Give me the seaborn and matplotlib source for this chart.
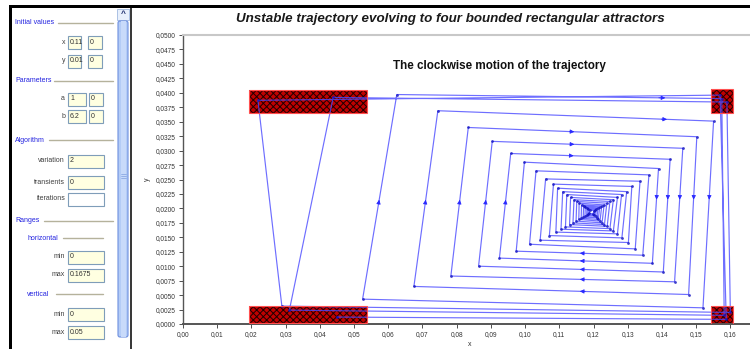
import numpy as np
import pandas as pd
import matplotlib
matplotlib.use("Agg")
import matplotlib.pyplot as plt
from matplotlib.patches import Rectangle, FancyBboxPatch
from matplotlib.ticker import FuncFormatter
import seaborn as sns

# ---------------- data ----------------
# loop corners, outermost loop first (BL -> TL -> TR -> BR in time order)
bl_x = [0.0525, 0.0675, 0.0783, 0.0864, 0.0925, 0.0974, 0.1013, 0.1044, 0.1071, 0.1090, 0.1105,
        0.1118, 0.1130, 0.1140, 0.1149, 0.1157, 0.1164, 0.1170, 0.1175, 0.1180, 0.1184, 0.1188]
bl_y = [0.0043, 0.0065, 0.0083, 0.0100, 0.0114, 0.0126, 0.0138, 0.0145, 0.0153, 0.0159, 0.0164,
        0.0168, 0.0172, 0.0175, 0.0178, 0.0181, 0.0183, 0.0185, 0.0187, 0.0189, 0.0191, 0.0192]
tl_x = [0.0625, 0.0745, 0.0834, 0.0904, 0.0958, 0.0998, 0.1032, 0.1060, 0.1083, 0.1095, 0.1110,
        0.1122, 0.1133, 0.1143, 0.1151, 0.1158, 0.1165, 0.1171, 0.1176, 0.1181, 0.1185, 0.1189]
tl_y = [0.0397, 0.0369, 0.0340, 0.0316, 0.0295, 0.0280, 0.0265, 0.0251, 0.0242, 0.0235, 0.0229,
        0.0224, 0.0219, 0.0215, 0.0212, 0.0209, 0.0206, 0.0204, 0.0202, 0.0200, 0.0199, 0.0198]
tr_x = [0.1575, 0.1551, 0.1502, 0.1461, 0.1424, 0.1390, 0.1362, 0.1336, 0.1312, 0.1297, 0.1282,
        0.1270, 0.1258, 0.1248, 0.1239, 0.1231, 0.1224, 0.1218, 0.1213, 0.1208, 0.1204, 0.1201]
tr_y = [0.0390, 0.0351, 0.0324, 0.0304, 0.0285, 0.0269, 0.0258, 0.0247, 0.0238, 0.0229, 0.0224,
        0.0219, 0.0215, 0.0212, 0.0209, 0.0206, 0.0204, 0.0202, 0.0200, 0.0199, 0.0197, 0.0196]
br_x = [0.1582, 0.1520, 0.1478, 0.1437, 0.1404, 0.1372, 0.1344, 0.1322, 0.1302, 0.1283, 0.1270,
        0.1258, 0.1248, 0.1240, 0.1232, 0.1225, 0.1219, 0.1214, 0.1210, 0.1206, 0.1202, 0.1199]
br_y = [0.0015, 0.0028, 0.0051, 0.0073, 0.0090, 0.0105, 0.0119, 0.0130, 0.0141, 0.0149, 0.0156,
        0.0161, 0.0165, 0.0169, 0.0172, 0.0175, 0.0178, 0.0181, 0.0184, 0.0187, 0.0189, 0.0191]
# jumps between the attractors after leaving the spiral
jump_x = [0.0311, 0.0439, 0.1590, 0.1600, 0.0289, 0.0219, 0.1570, 0.1588, 0.0450]
jump_y = [0.0024, 0.0392, 0.0384, 0.0020, 0.0031, 0.0387, 0.0396, 0.0008, 0.0012]

# four bounded rectangular attractors
att_x0 = [0.0193, 0.0193, 0.1544, 0.1544]
att_x1 = [0.0538, 0.0538, 0.1608, 0.1608]
att_y0 = [0.0365, 0.0002, 0.0365, 0.0000]
att_y1 = [0.0405, 0.0032, 0.0407, 0.0031]

x_ticks = [i / 100 for i in range(17)]
y_ticks = [i * 0.0025 for i in range(21)]

title = "Unstable trajectory evolving to four bounded rectangular attractors"
subtitle = "The clockwise motion of the trajectory"

# ---------------- build path ----------------
px, py = [], []
for k in range(len(bl_x) - 1, -1, -1):
    px += [bl_x[k], tl_x[k], tr_x[k], br_x[k]]
    py += [bl_y[k], tl_y[k], tr_y[k], br_y[k]]
px += jump_x
py += jump_y
df = pd.DataFrame({"x": px, "y": py, "step": range(len(px))})

# ---------------- figure ----------------
sns.set_theme(style="white")
plt.rcParams["font.family"] = ["Liberation Sans", "DejaVu Sans"]
plt.rcParams["hatch.linewidth"] = 0.7
W, H = 750, 349
fig = plt.figure(figsize=(7.5, 3.49), dpi=100)
fig.patch.set_facecolor("white")

# overlay in pixel coordinates for the GUI panel
ov = fig.add_axes([0, 0, 1, 1])
ov.set_xlim(0, W)
ov.set_ylim(H, 0)
ov.axis("off")

# frame lines
ov.add_patch(Rectangle((9, 5), W - 9, 3.2, color="black", lw=0))
ov.add_patch(Rectangle((9, 5), 3.2, H - 5, color="black", lw=0))
ov.add_patch(Rectangle((129.5, 8), 2.5, H - 8, color="#3a3a3a", lw=0))
# scrollbar
ov.add_patch(Rectangle((117, 9), 12, 11, facecolor="#e8f0fc", edgecolor="#a0b8e0", lw=0.6))
ov.text(123, 14.5, "^", ha="center", va="center", fontsize=6, color="#1a2a6a", fontweight="bold")
ov.add_patch(FancyBboxPatch((118, 21), 10, 316, boxstyle="round,pad=0,rounding_size=2",
                            facecolor="#b4ccf6", edgecolor="#6d8fe0", lw=0.8))
ov.add_patch(Rectangle((120.5, 21), 5, 316, facecolor="#c8dafa", lw=0))
for yy in (173.5, 175.5, 177.5):
    ov.plot([120.5, 125.5], [yy, yy], color="#7f9fe0", lw=0.5)

hdr_c = "#2424e0"
lab_c = "#404040"
sep_c = "#b5b29c"
fs = 5.0


def header(x, y, s, x1, x2):
    ov.text(x, y, s, color=hdr_c, fontsize=fs, va="center", ha="left")
    ov.plot([x1, x2], [y, y], color=sep_c, lw=1.0)


def label(y, s):
    ov.text(65, y, s, color=lab_c, fontsize=fs, va="center", ha="right")


def box(x0, x1, y, s, fc="#ffffe1"):
    ov.add_patch(Rectangle((x0, y - 6), x1 - x0, 12.5, facecolor=fc, edgecolor="#7f9db9", lw=0.8))
    ov.text(x0 + 2, y, s, color="#303030", fontsize=fs, va="center", ha="left")


header(15, 23, "Initial values", 58, 113)
label(42, "x"); box(68, 81, 42, "0.11"); box(88, 102, 42, "0")
label(61, "y"); box(68, 81, 61, "0.01"); box(88, 102, 61, "0")
header(15, 81, "Parameters", 54, 113)
label(99, "a"); box(68, 86, 99, "1"); box(89, 103, 99, "0")
label(116, "b"); box(68, 86, 116, "6.2"); box(89, 103, 116, "0")
header(15, 140, "Algorithm", 49, 113)
label(161, "variation"); box(68, 104, 161, "2")
label(182, "transients"); box(68, 104, 182, "0")
label(199, "iterations"); box(68, 104, 199, "", fc="white")
header(15, 221, "Ranges", 44, 113)
header(27, 238, "horizontal", 63, 103)
label(257, "min"); box(68, 104, 257, "0")
label(275, "max"); box(68, 104, 275, "0.1675")
header(27, 294, "vertical", 56, 103)
label(314, "min"); box(68, 104, 314, "0")
label(332, "max"); box(68, 104, 332, "0.05")

# titles
ov.text(450, 19, title, ha="center", va="center", fontsize=9.6,
        fontweight="bold", fontstyle="italic", color="#1a1a1a")
ov.text(499, 66, subtitle, ha="center", va="center", fontsize=8.4,
        fontweight="bold", color="#111111")

# ---------------- main chart ----------------
left_px, right_px, top_px, bot_px = 183, 756, 35, 324
ax = fig.add_axes([left_px / W, (H - bot_px) / H, (right_px - left_px) / W, (bot_px - top_px) / H])
ax.patch.set_alpha(0)
ax.set_xlim(0, 0.1675)
ax.set_ylim(0, 0.05)

line_c = "#4a4aff"
sns.lineplot(data=df, x="x", y="y", sort=False, estimator=None, ax=ax,
             color=line_c, lw=0.85, alpha=0.8, marker="o", markersize=2.0,
             markeredgewidth=0, markerfacecolor="#1010c0", zorder=3)

for i in range(4):
    xx, yy = att_x0[i], att_y0[i]
    w, h = att_x1[i] - att_x0[i], att_y1[i] - att_y0[i]
    ax.add_patch(Rectangle((xx, yy), w, h, facecolor="#c00000", edgecolor="none", zorder=2))
    ax.add_patch(Rectangle((xx, yy), w, h, facecolor="none", edgecolor="#200000",
                           hatch="xxxxx", lw=0, zorder=2.1))
    ax.add_patch(Rectangle((xx, yy), w, h, facecolor="none", edgecolor="#ff5050", lw=0.8, zorder=4))


def arrow_at(p0, p1, t):
    x0, y0 = p0
    x1, y1 = p1
    a = (x0 + (x1 - x0) * t, y0 + (y1 - y0) * t)
    b = (x0 + (x1 - x0) * (t - 0.02), y0 + (y1 - y0) * (t - 0.02))
    ax.annotate("", xy=a, xytext=b,
                arrowprops=dict(arrowstyle="-|>", color="#2a2aff", lw=0.6,
                                mutation_scale=6, shrinkA=0, shrinkB=0), zorder=5)


# top (rightward) arrows
top_arrow_x = [0.1410, 0.1415, 0.1144, 0.1144, 0.1142]
for k, xa in enumerate(top_arrow_x):
    p0, p1 = (tl_x[k], tl_y[k]), (tr_x[k], tr_y[k])
    arrow_at(p0, p1, (xa - p0[0]) / (p1[0] - p0[0]))
# left (upward) arrows
for k in range(5):
    p0, p1 = (bl_x[k], bl_y[k]), (tl_x[k], tl_y[k])
    arrow_at(p0, p1, (0.0215 - p0[1]) / (p1[1] - p0[1]))
# right (downward) arrows
for k in range(1, 6):
    p0, p1 = (tr_x[k], tr_y[k]), (br_x[k], br_y[k])
    arrow_at(p0, p1, (p0[1] - 0.0215) / (p0[1] - p1[1]))
# bottom (leftward) arrows
for k in range(1, 6):
    p0, p1 = (br_x[k + 1], br_y[k + 1]), (bl_x[k], bl_y[k])
    arrow_at(p0, p1, (p0[0] - 0.1160) / (p0[0] - p1[0]))

ax.set_xticks(x_ticks)
ax.set_yticks(y_ticks)
ax.xaxis.set_major_formatter(FuncFormatter(lambda v, p: f"{v:.2f}".replace(".", ",")))
ax.yaxis.set_major_formatter(FuncFormatter(lambda v, p: f"{v:.4f}".replace(".", ",")))
ax.tick_params(axis="both", which="major", labelsize=4.7, colors="#333333",
               length=3, width=0.6, direction="out", pad=2)
ax.tick_params(left=True, bottom=True)
ax.set_xlabel("x", fontsize=5, color="#333333", labelpad=2)
ax.set_ylabel("y", fontsize=5, color="#333333", labelpad=4)

ax.spines["right"].set_visible(False)
ax.spines["top"].set_color("#c8c8c8")
ax.spines["top"].set_linewidth(1.5)
ax.spines["left"].set_color("#555555")
ax.spines["left"].set_linewidth(1.0)
ax.spines["bottom"].set_color("#555555")
ax.spines["bottom"].set_linewidth(1.4)
ax.grid(False)

fig.savefig("out.png", dpi=100)
